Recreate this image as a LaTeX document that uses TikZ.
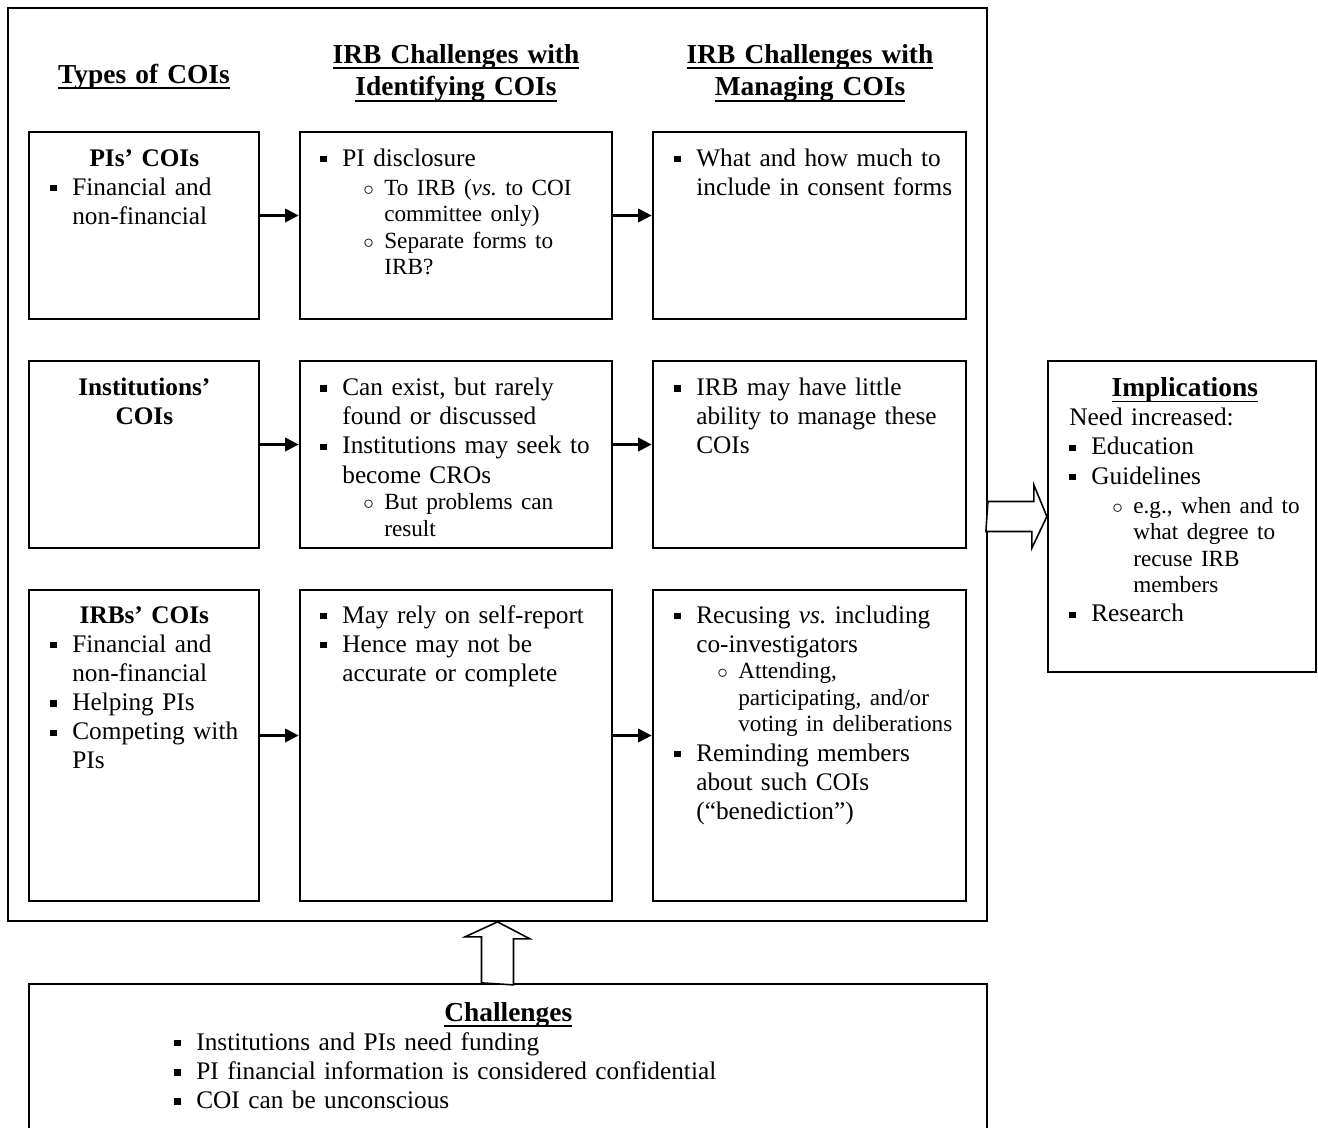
\documentclass[tikz,border=0pt]{standalone}
\usepackage{fontspec}
\setmainfont{Liberation Serif}
\usepackage{tikz}
\usetikzlibrary{arrows.meta}
\frenchspacing
\newsavebox\ulbox
\newcommand{\ulin}[1]{\leavevmode\sbox\ulbox{#1}\rlap{\rule[-3.4pt]{\wd\ulbox}{1.1pt}}\usebox\ulbox}
\newcommand{\sqb}{\rule[2.2pt]{3.6pt}{3.6pt}}
\newcommand{\bodyfont}{\fontsize{14.4}{16.6}\selectfont}
\newcommand{\subfont}{\fontsize{13.2}{15.1}\selectfont}
\newcommand{\headfont}{\fontsize{15.6}{18.4}\selectfont\bfseries}
\newcommand{\mitem}[1]{\par\hangindent=0.44cm\hangafter=1\noindent\strut\makebox[0.44cm][l]{\sqb}#1\par}
\newcommand{\sitem}[1]{{\subfont\par\hangindent=1.28cm\hangafter=1\noindent\strut\hspace*{0.86cm}\makebox[0.42cm][l]{$\circ$}#1\par}}
\newcommand{\btitle}[2]{\par\noindent\makebox[#1][c]{\strut\bfseries #2}\par}
\newcommand{\utitle}[2]{\par\noindent\makebox[#1][c]{\strut\headfont\ulin{#2}}\par}
\tikzset{
    outerbox/.style={draw, line width=1.1pt, inner sep=0pt},
    coibox/.style={draw, line width=1.6pt, inner sep=0pt},
    sidebox/.style={draw, line width=1.3pt, inner sep=0pt},
    bodytxt/.style={anchor=north west, inner sep=0pt, text width=#1, font=\bodyfont},
    bodytxt/.default=8cm,
    headtxt/.style={anchor=north, inner sep=0pt, text width=7cm, align=center, font=\headfont},
    flowarrow/.style={line width=1.2pt, -{Triangle[length=0.27cm,width=0.27cm]}},
    fatarrow/.style={draw, line width=0.9pt, fill=white, line join=miter},
}

\begin{document}
\begin{tikzpicture}[x=0.02cm,y=-0.02cm]
\useasboundingbox (0,0) rectangle (1318,1128);

\node[outerbox, minimum width=19.58cm, minimum height=18.26cm] (outer) at (497.5,464.5) {};

% column headings
\node[headtxt] (h1) at (144,60.4) {\ulin{\strut Types of COIs}};
\node[headtxt] (h2) at (456,40.4) {\ulin{\strut IRB Challenges with}\\\ulin{\strut Identifying COIs}};
\node[headtxt] (h3) at (810,40.4) {\ulin{\strut IRB Challenges with}\\\ulin{\strut Managing COIs}};

% boxes
\node[coibox, minimum width=4.6cm, minimum height=3.74cm] (b11) at (144,225.5) {};
\node[coibox, minimum width=6.24cm, minimum height=3.74cm] (b12) at (456,225.5) {};
\node[coibox, minimum width=6.26cm, minimum height=3.74cm] (b13) at (809.5,225.5) {};
\node[coibox, minimum width=4.6cm, minimum height=3.74cm] (b21) at (144,454.5) {};
\node[coibox, minimum width=6.24cm, minimum height=3.74cm] (b22) at (456,454.5) {};
\node[coibox, minimum width=6.26cm, minimum height=3.74cm] (b23) at (809.5,454.5) {};
\node[coibox, minimum width=4.6cm, minimum height=6.22cm] (b31) at (144,745.5) {};
\node[coibox, minimum width=6.24cm, minimum height=6.22cm] (b32) at (456,745.5) {};
\node[coibox, minimum width=6.26cm, minimum height=6.22cm] (b33) at (809.5,745.5) {};
\node[sidebox, minimum width=5.36cm, minimum height=6.22cm] (impl) at (1182,516.5) {};
\node[sidebox, minimum width=19.16cm, minimum height=3.04cm] (chal) at (508,1060) {};

% texts
\node[bodytxt] (t11) at (50,136.6) {\btitle{3.76cm}{PIs’ COIs}\mitem{Financial and\newline non-financial}};
\node[bodytxt] (t12) at (320,136.6) {\mitem{PI disclosure}\sitem{To IRB (\textit{vs.} to COI\newline committee only)}\sitem{Separate forms to\newline IRB?}};
\node[bodytxt] (t13) at (674,136.6) {\mitem{What and how much to\newline include in consent forms}};
\node[bodytxt] (t21) at (50,366) {\btitle{3.76cm}{Institutions’}\btitle{3.76cm}{COIs}};
\node[bodytxt] (t22) at (320,366) {\mitem{Can exist, but rarely\newline found or discussed}\mitem{Institutions may seek to\newline become CROs}\sitem{But problems can\newline result}};
\node[bodytxt] (t23) at (674,366) {\mitem{IRB may have little\newline ability to manage these\newline COIs}};
\node[bodytxt] (t31) at (50,593.6) {\btitle{3.76cm}{IRBs’ COIs}\mitem{Financial and\newline non-financial}\mitem{Helping PIs}\mitem{Competing with\newline PIs}};
\node[bodytxt] (t32) at (320,593.6) {\mitem{May rely on self-report}\mitem{Hence may not be\newline accurate or complete}};
\node[bodytxt] (t33) at (674,593.6) {\mitem{Recusing \textit{vs.} including\newline co-investigators}\sitem{Attending,\newline participating, and/or\newline voting in deliberations}\mitem{Reminding members\newline about such COIs\newline (“benediction”)}};
\node[bodytxt] (timpl) at (1069,367) {\utitle{4.62cm}{Implications}\par\noindent\strut Need increased:\par\mitem{Education}\mitem{Guidelines}\sitem{e.g., when and to\newline what degree to\newline recuse IRB\newline members}\mitem{Research}};
\node[bodytxt=14cm] (tchal) at (174,991.6) {\utitle{13.36cm}{Challenges}\mitem{Institutions and PIs need funding}\mitem{PI financial information is considered confidential}\mitem{COI can be unconscious}};

% arrows between boxes
\foreach \r in {1,2,3}{
  \draw[flowarrow] ([yshift=0.2cm]b\r1.east) -- ([yshift=0.2cm]b\r2.west);
  \draw[flowarrow] ([yshift=0.2cm]b\r2.east) -- ([yshift=0.2cm]b\r3.west);
}

% block arrows
\draw[fatarrow] (outer.east |- impl.west) ++(0,-15) -- ++(46,0) -- ++(0,-16.5) -- (impl.west) -- ++(-15,31.5) -- ++(0,-16.5) -- ++(-46,0) -- cycle;
\draw[fatarrow] (outer.south |- chal.north) ++(-16,0) -- ++(0,-46) -- ++(-16.5,0) -- (outer.south) -- ++(32.5,17) -- ++(-16.5,0) -- ++(0,46) -- cycle;
\end{tikzpicture}
\end{document}
